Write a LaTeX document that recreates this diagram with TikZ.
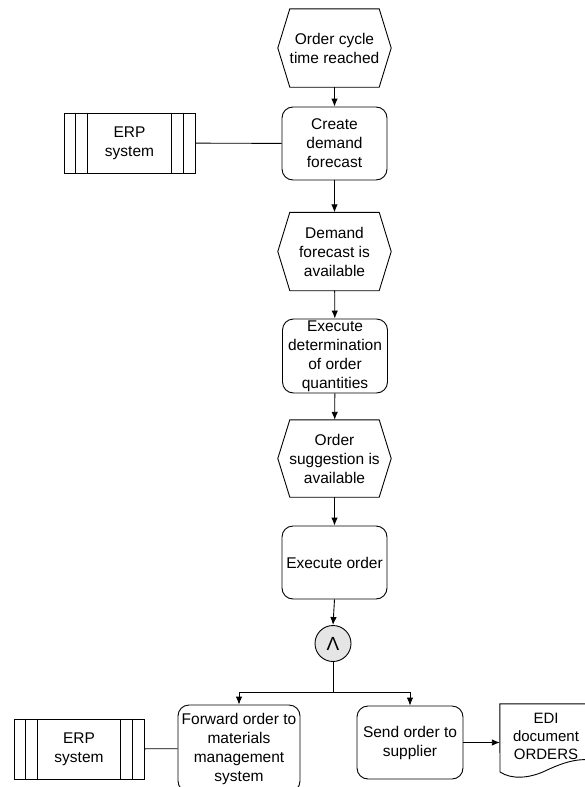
\documentclass[tikz,border=0pt]{standalone}
\usepackage{fontspec}
\setmainfont{Liberation Sans}
\usetikzlibrary{arrows.meta}
\newcommand\hexdraw[1]{\draw[ln] (#1.west) -- ([xshift=12pt]#1.north west) -- ([xshift=-12pt]#1.north east) -- (#1.east) -- ([xshift=-12pt]#1.south east) -- ([xshift=12pt]#1.south west) -- cycle;}
\newcommand\sysdraw[1]{%
  \draw[ln] ([xshift=12pt]#1.north west) -- ([xshift=12pt]#1.south west);
  \draw[ln] ([xshift=24pt]#1.north west) -- ([xshift=24pt]#1.south west);
  \draw[ln] ([xshift=-12pt]#1.north east) -- ([xshift=-12pt]#1.south east);
  \draw[ln] ([xshift=-24pt]#1.north east) -- ([xshift=-24pt]#1.south east);}
\begin{document}
\begin{tikzpicture}[x=1pt,y=-1pt,
  every node/.style={font=\fontsize{15.5}{19}\selectfont, align=center, inner sep=0pt},
  ln/.style={line width=0.9pt, black},
  arr/.style={ln, -{Latex[length=8pt,width=6.5pt]}},
  evt/.style={minimum width=113pt, minimum height=78pt},
  fct/.style={draw, ln, rounded corners=11pt, minimum width=105pt, minimum height=73pt},
  sys/.style={draw, ln, minimum width=131pt, minimum height=60pt},
  conn/.style={draw, ln, circle, fill=black!10, minimum size=36pt},
  ]
\useasboundingbox (0,0) rectangle (585,787);
\fill[white] (0,0) rectangle (585,787);

\node[evt] (e1) at (334.5,48) {Order cycle\\time reached};
\node[fct] (f1) at (334.5,143.5) {Create\\demand\\forecast};
\node[sys] (erp1) at (129.5,143) {ERP\\system};
\node[evt] (e2) at (334.5,251.5) {Demand\\forecast is\\available};
\node[fct, minimum height=74pt] (f2) at (335,356) {Execute\\determination\\of order\\quantities};
\node[evt, minimum height=77pt] (e3) at (334.5,458.5) {Order\\suggestion is\\available};
\node[fct] (f3) at (334.5,562.5) {Execute order};
\node[conn] (and) at (333,643.5) {\fontsize{19}{19}\selectfont Λ};
\coordinate (j) at (333,692);
\node[fct, minimum width=122pt, minimum height=87pt] (f4) at (239,748.5) {Forward order to\\materials\\management\\system};
\node[sys, minimum width=130pt] (erp2) at (79,749) {ERP\\system};
\node[fct, minimum width=106pt, minimum height=73pt] (f5) at (410,742.5) {Send order to\\supplier};
\node[minimum width=92pt, minimum height=64pt, font=\fontsize{15}{18}\selectfont] (doc) at (546,736) {EDI\\document\\ORDERS};

\hexdraw{e1}
\hexdraw{e2}
\hexdraw{e3}
\sysdraw{erp1}
\sysdraw{erp2}
\draw[ln] (doc.north west) -- (doc.north east) -- (592,760)
  .. controls (575,758) and (560,764) .. (545,771)
  .. controls (530,778) and (512,780) .. (500,772) -- cycle;

\draw[arr] (e1) -- (f1);
\draw[ln] (erp1) -- (f1);
\draw[arr] (f1) -- (e2);
\draw[arr] (e2) -- (f2);
\draw[arr] (f2) -- (e3);
\draw[arr] (e3) -- (f3);
\draw[arr] (f3.south) -- (and.north);
\draw[ln] (and) -- (j);
\draw[arr] (j) -| (f4.north);
\draw[arr] (j) -| (f5.north);
\draw[ln] (erp2) -- (f4);
\draw[arr] (f5.east) -- (f5.east -| doc.west);
\end{tikzpicture}
\end{document}
